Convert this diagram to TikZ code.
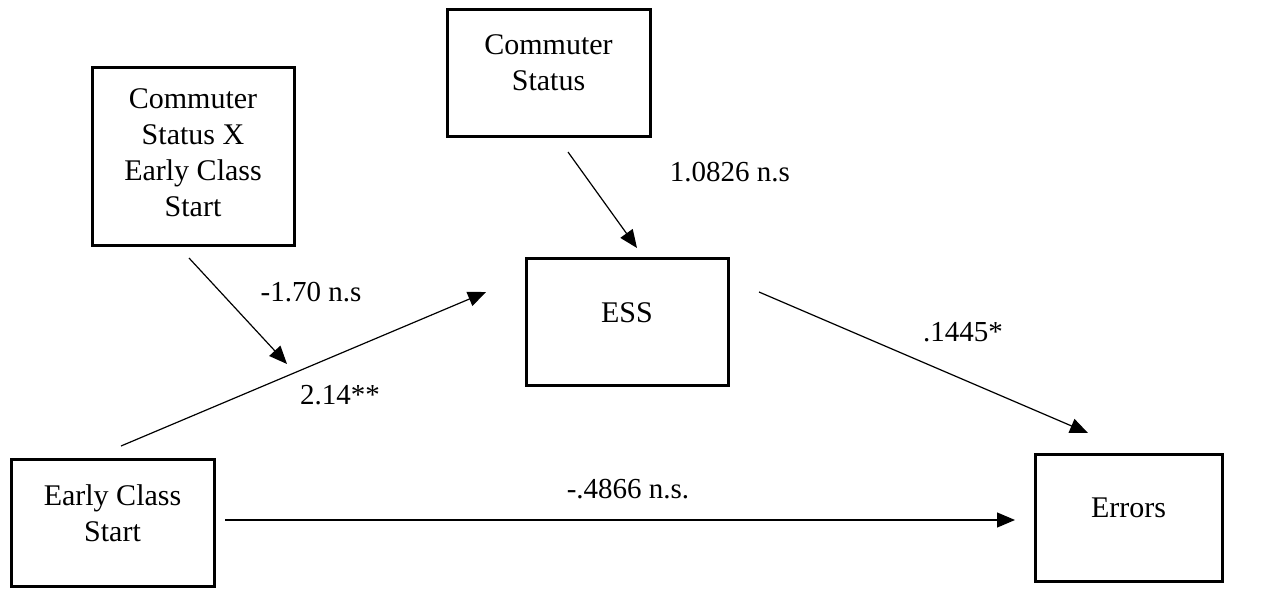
\documentclass[tikz,border=0pt]{standalone}
\usepackage{fontspec}
\setmainfont{Liberation Serif}
\usetikzlibrary{arrows.meta}

\begin{document}
\begin{tikzpicture}[x=1pt, y=-1pt, >={Triangle[length=18pt,width=15pt]},
  every box/.style={draw, line width=3pt, rectangle, minimum height=127pt},
  every text/.style={align=center, font=\fontsize{30}{36}\selectfont},
  every path/.style={line width=1.2pt}]

\useasboundingbox (0,0) rectangle (1267,592);

% boxes
\node [every box/.try, minimum width=202pt, minimum height=178pt] (inter) at (193,156) {};
\node [every box/.try, minimum width=203pt] (cstat) at (548.5,72.5) {};
\node [every box/.try, minimum width=202pt] (ess) at (627,321.5) {};
\node [every box/.try, minimum width=203pt] (ecs) at (112.5,523) {};
\node [every box/.try, minimum width=187pt] (errors) at (1128.5,517.5) {};

% box texts
\node [every text/.try] (inter-txt) at (193,153) {Commuter\\Status X\\Early Class\\Start};
\node [every text/.try] (cstat-txt) at (548.5,63) {Commuter\\Status};
\node [every text/.try] (ess-txt) at (627,313) {ESS};
\node [every text/.try] (ecs-txt) at (112.5,513) {Early Class\\Start};
\node [every text/.try] (errors-txt) at (1128.5,508) {Errors};

% arrow ends
\coordinate (inter-out) at (189,258);
\coordinate (ecs-path) at (287,364);
\coordinate (cstat-out) at (568,152);
\coordinate (ess-top) at (637,248);
\coordinate (ecs-up) at (121,446);
\coordinate (ess-left) at (486,292);
\coordinate (ess-right) at (759,292);
\coordinate (errors-top) at (1088,433);
\coordinate (ecs-right) at (225,520);
\coordinate (errors-left) at (1015,520);

\draw [->] (inter-out) -- (ecs-path);
\draw [->] (cstat-out) -- (ess-top);
\draw [->] (ecs-up) -- (ess-left);
\draw [->] (ess-right) -- (errors-top);
\draw [->] (ecs-right) -- (errors-left);

% coefficients
\foreach \l/\p [count=\i] in {-1.70 n.s/{(311,292)}, 2.14**/{(340,395)},
    1.0826 n.s/{(730,172)}, .1445*/{(963,332)}, -.4866 n.s./{(628,489)}}
  \node [every text/.try, font=\fontsize{29}{34}\selectfont] (coef-\i) at \p {\l};

\end{tikzpicture}
\end{document}
